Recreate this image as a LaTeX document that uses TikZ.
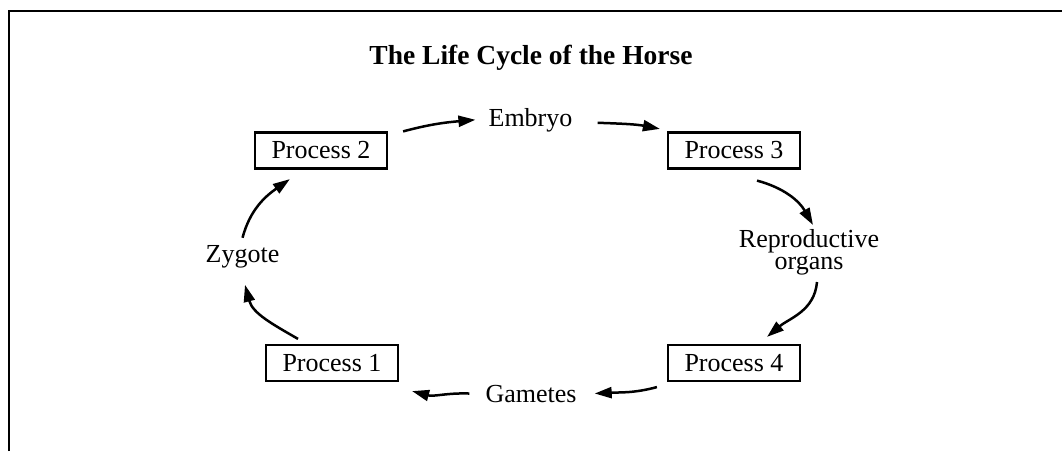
\documentclass[tikz,border=0pt]{standalone}
\usepackage{fontspec}
\setmainfont{Liberation Serif}
\usetikzlibrary{arrows.meta}
\begin{document}
\begin{tikzpicture}[x=1pt,y=1pt,
  procbox/.style={draw,line width=2.2pt,minimum width=132pt,minimum height=36pt,inner sep=0pt,font=\fontsize{26}{30}\selectfont},
  lbl/.style={inner sep=0pt,font=\fontsize{26}{22}\selectfont,align=center},
  arr/.style={line width=2.5pt,-{Stealth[length=17pt,width=11pt,inset=0pt]}},
  frame/.style={line width=2.4pt}]
\useasboundingbox (0,0) rectangle (1062,451);
\draw[frame] (9,0) -- (9,440) -- (1062,440);
\node[font=\bfseries\fontsize{27.5}{33}\selectfont,anchor=base,inner sep=0pt] (title) at (531,386) {The Life Cycle of the Horse};
\node[procbox] (p2) at (321,300.5) {Process 2};
\node[procbox] (p3) at (734,300.5) {Process 3};
\node[procbox] (p1) at (332,88) {Process 1};
\node[procbox] (p4) at (734,88) {Process 4};
\node[lbl,anchor=base] (emb) at (530.5,325) {Embryo};
\node[lbl,anchor=base] (zyg) at (242.5,189) {Zygote};
\node[lbl] (rep) at (809,199) {Reproductive\\organs};
\node[lbl,anchor=base] (gam) at (531,49) {Gametes};
\draw[arr] ([xshift=15pt]p2.north east) to[out=15,in=185] ([xshift=-13pt]emb.west);
\draw[arr] ([xshift=25pt,yshift=-3pt]emb.east) to[out=-2,in=169] ([xshift=-7pt,yshift=2.5pt]p3.north west);
\draw[arr] ([xshift=23pt,yshift=-11pt]p3.south) to[out=-15,in=120] ([xshift=4pt,yshift=4pt]rep.north);
\draw[arr] ([xshift=8pt,yshift=-7pt]rep.south) to[out=-95,in=40] ([xshift=33pt,yshift=7pt]p4.north);
\draw[arr] ([xshift=-10pt,yshift=-5pt]p4.south west) to[out=195,in=3] ([xshift=18pt]gam.east);
\draw[arr] ([xshift=-16pt]gam.west) to[out=178,in=-15] ([xshift=13pt,yshift=-9pt]p1.south east);
\draw[arr] ([xshift=-34pt,yshift=5pt]p1.north) to[out=150,in=-75] ([xshift=2.5pt,yshift=-17pt]zyg.south);
\draw[arr] ([yshift=7pt]zyg.north) to[out=75,in=215] ([xshift=36pt,yshift=-9.5pt]p2.south west);
\end{tikzpicture}
\end{document}
